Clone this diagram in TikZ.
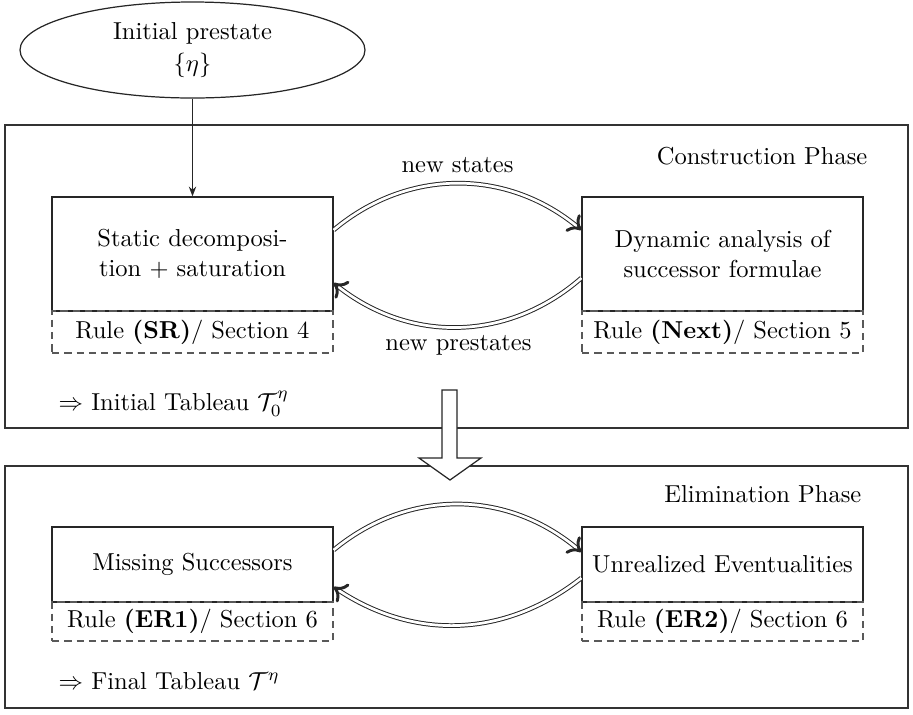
\documentclass[tikz,border=0pt]{standalone}
\usepackage{amsmath,amssymb}
\usetikzlibrary{shapes.geometric,arrows.meta,calc}
\def\pxs{0.408}
\begin{document}
\begin{tikzpicture}[x=\pxs pt,y=-\pxs pt,
  every node/.style={font=\normalsize},
  frame/.style={draw=black!80,line width=0.5pt},
  procbox/.style={draw=black!85,line width=0.5pt,minimum width=281*\pxs pt,align=center,inner sep=0pt},
  rulebox/.style={draw=black!65,dashed,dash pattern=on 3pt off 2pt,line width=0.5pt,minimum width=281*\pxs pt,inner sep=0pt},
  dbl/.style={double=white,double distance=1.1pt,line width=0.4pt,draw=black!85,-{To[length=5pt,width=9pt,line width=1.2pt]}},
  startnode/.style={ellipse,draw=black!85,line width=0.5pt,minimum width=345*\pxs pt,minimum height=96*\pxs pt,inner sep=0pt,align=center},
  flowarrow/.style={draw=black!85,line width=0.5pt,-{Stealth[length=4pt,width=3pt]}}
]
\useasboundingbox (0,0) rectangle (913,714);
% outer frames
\draw[frame] (5,125) rectangle (908,428);
\draw[frame] (5,466) rectangle (908,708);
\node[anchor=east] (cphase) at (876,156) {Construction Phase};
\node[anchor=east] (ephase) at (870,494) {Elimination Phase};

% start
\node[startnode] (init) at (192.5,50) {Initial prestate\\[1pt] $\{\eta\}$};

% construction boxes
\node[procbox,minimum height=114*\pxs pt] (static) at (192.5,254) {Static decomposi-\\ tion $+$ saturation};
\node[rulebox,minimum height=42*\pxs pt] (sr) at (192.5,332) {Rule \textbf{(SR)}/ Section 4};
\node[procbox,minimum height=114*\pxs pt] (dyn) at (722.5,254) {Dynamic analysis of\\ successor formulae};
\node[rulebox,minimum height=42*\pxs pt] (next) at (722.5,332) {Rule \textbf{(Next)}/ Section 5};

\draw[flowarrow] (init.south) -- (static.north);

\draw[dbl] ($(static.east)+(0,-24)$) to[bend left=40] node[above=1pt] (lnew) {new states} ($(dyn.west)+(0,-24)$);
\draw[dbl] ($(dyn.west)+(0,24)$) to[bend left=40] node[below=0pt] (lpre) {new prestates} ($(static.east)+(0,29)$);

\node[anchor=west] (itab) at (50,404) {$\Rightarrow$ Initial Tableau $\mathcal{T}_0^{\eta}$};

% elimination boxes
\node[procbox,minimum height=75*\pxs pt] (miss) at (192.5,564.5) {Missing Successors};
\node[rulebox,minimum height=39*\pxs pt] (er1) at (192.5,621.5) {Rule \textbf{(ER1)}/ Section 6};
\node[procbox,minimum height=75*\pxs pt] (unr) at (722.5,564.5) {Unrealized Eventualities};
\node[rulebox,minimum height=39*\pxs pt] (er2) at (722.5,621.5) {Rule \textbf{(ER2)}/ Section 6};

\draw[dbl] ($(miss.east)+(0,-14.5)$) to[bend left=40] ($(unr.west)+(0,-12.5)$);
\draw[dbl] ($(unr.west)+(0,13.5)$) to[bend left=36] ($(miss.east)+(0,22.5)$);

\node[anchor=west] (ftab) at (50,681) {$\Rightarrow$ Final Tableau $\mathcal{T}^{\eta}$};

% big hollow arrow
\draw[fill=white,draw=black!85,line width=0.5pt] (442,390) -- (457,390) -- (457,458) -- (481,458) -- (450,480) -- (419,458) -- (442,458) -- cycle;
\end{tikzpicture}
\end{document}
